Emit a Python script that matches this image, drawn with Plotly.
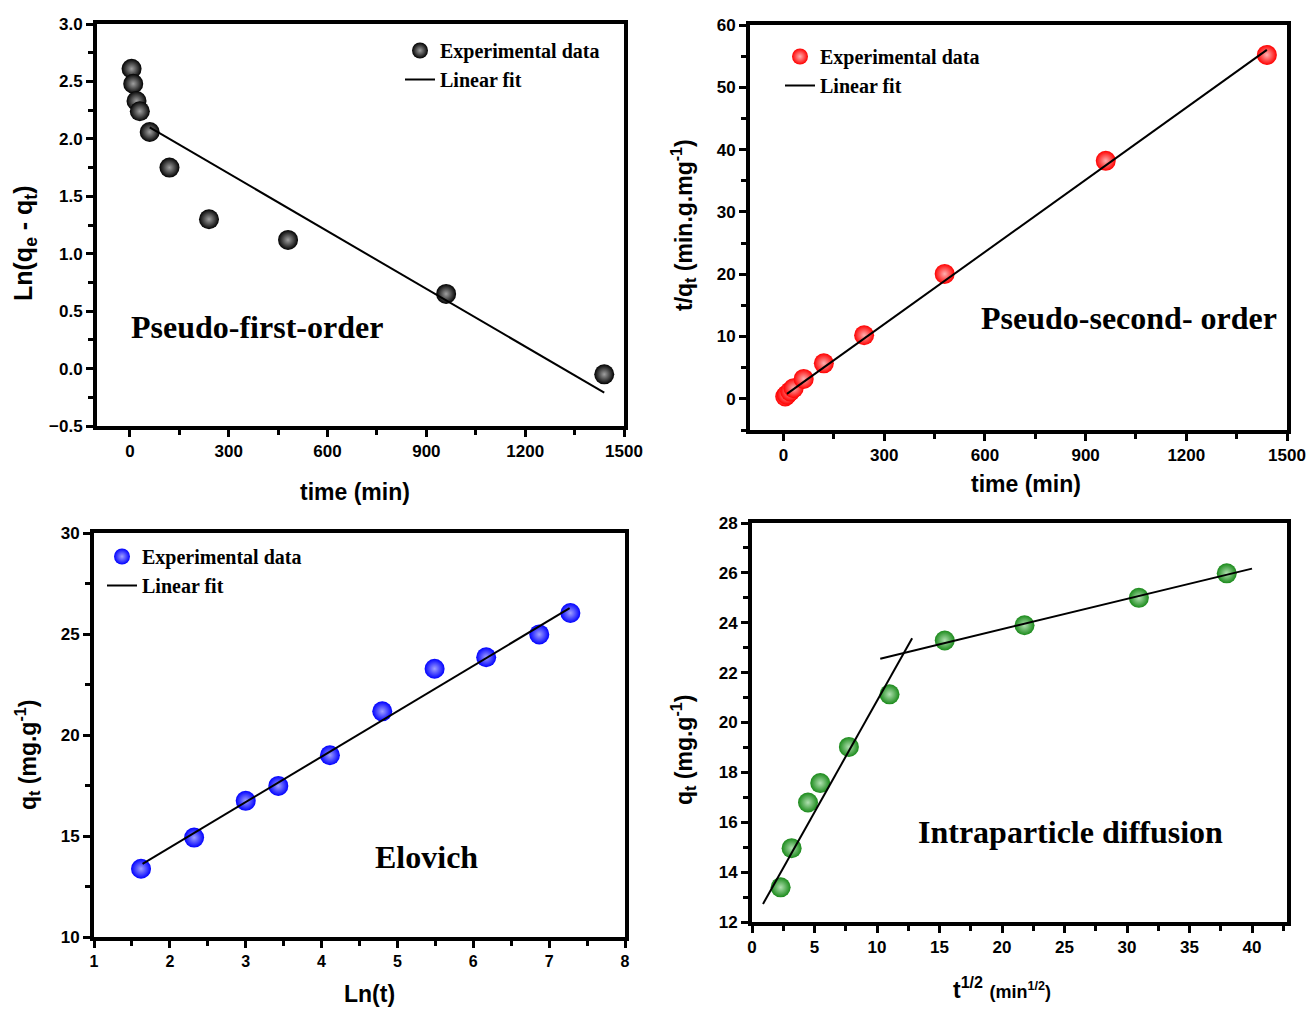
import plotly.graph_objects as go

W, H = 1309, 1009

# ---------------- data ----------------
# Panel 1: Pseudo-first-order
pfo_time = [5, 10, 20, 30, 60, 120, 240, 480, 960, 1440]
pfo_ln = [2.61, 2.48, 2.33, 2.24, 2.06, 1.75, 1.30, 1.12, 0.65, -0.05]
pfo_fit_x = [60, 1440]
pfo_fit_y = [2.10, -0.21]

# Panel 2: Pseudo-second-order
pso_time = [5, 10, 20, 30, 60, 120, 240, 480, 960, 1440]
pso_tq = [0.37, 0.67, 1.19, 1.71, 3.2, 5.7, 10.2, 20.05, 38.2, 55.2]
pso_fit_x = [10, 1440]
pso_fit_y = [0.8, 56.0]

# Panel 3: Elovich
elo_lnt = [1.62, 2.32, 3.00, 3.43, 4.11, 4.80, 5.49, 6.17, 6.87, 7.28]
elo_qt = [13.38, 14.92, 16.74, 17.48, 19.0, 21.17, 23.28, 23.85, 24.98, 26.04]
elo_fit_x = [1.64, 7.27]
elo_fit_y = [13.62, 26.28]

# Panel 4: Intraparticle diffusion
ipd_sqrt_t = [2.29, 3.17, 4.48, 5.46, 7.75, 11.0, 15.42, 21.8, 30.95, 37.98]
ipd_qt = [13.39, 14.96, 16.79, 17.57, 19.02, 21.13, 23.29, 23.9, 25.0, 25.98]
ipd_fit1_x = [0.88, 12.81]
ipd_fit1_y = [12.72, 23.38]
ipd_fit2_x = [10.26, 40.0]
ipd_fit2_y = [22.56, 26.17]

# ---------------- helpers ----------------
def px(x):
    return x / W

def py(y):
    return 1 - y / H

SANS = "Liberation Sans"
SERIF = "Liberation Serif"

fig = go.Figure()

def sphere(color, center):
    return dict(size=20, color=color, line=dict(width=0),
                gradient=dict(type="radial", color=center))

def add_panel(n, xs, ys, color, center, fits, legend):
    xa = "x" if n == 1 else f"x{n}"
    ya = "y" if n == 1 else f"y{n}"
    fig.add_trace(go.Scatter(x=xs, y=ys, mode="markers", name="Experimental data",
                             marker=sphere(color, center), xaxis=xa, yaxis=ya,
                             legend=legend, showlegend=legend is not None))
    for i, (fx, fy) in enumerate(fits):
        fig.add_trace(go.Scatter(x=fx, y=fy, mode="lines", name="Linear fit",
                                 line=dict(color="black", width=2), xaxis=xa, yaxis=ya,
                                 legend=legend, showlegend=(legend is not None and i == 0)))

add_panel(1, pfo_time, pfo_ln, "#000000", "#a0a0a0", [(pfo_fit_x, pfo_fit_y)], "legend")
add_panel(2, pso_time, pso_tq, "#ff0000", "#ffb0b0", [(pso_fit_x, pso_fit_y)], "legend2")
add_panel(3, elo_lnt, elo_qt, "#0000ff", "#a0a0ff", [(elo_fit_x, elo_fit_y)], "legend3")
add_panel(4, ipd_sqrt_t, ipd_qt, "#1a8a1a", "#b0e0b0",
          [(ipd_fit1_x, ipd_fit1_y), (ipd_fit2_x, ipd_fit2_y)], None)

def axis(domain, rng, dtick, minor, anchor, fmt=None, size=17):
    d = dict(domain=domain, range=rng, dtick=dtick, tick0=0, anchor=anchor,
             automargin=False,
             showgrid=False, zeroline=False, showline=True, mirror=True,
             linecolor="black", linewidth=4,
             ticks="outside", ticklen=7, tickwidth=3, tickcolor="black",
             minor=dict(ticks="outside", ticklen=5, tickwidth=3, tickcolor="black",
                        dtick=minor, showgrid=False),
             tickfont=dict(family=SANS, size=size, color="black", weight="bold"))
    if fmt:
        d["tickformat"] = fmt
    return d

fig.update_layout(
    width=W, height=H, margin=dict(l=0, r=0, t=0, b=0, autoexpand=False),
    paper_bgcolor="white", plot_bgcolor="white",
    separators=".,",
    xaxis=axis([px(97), px(624)], [-100, 1500], 300, 150, "y"),
    yaxis=axis([py(426), py(24)], [-0.5, 3.0], 0.5, 0.25, "x", fmt=".1f"),
    xaxis2=axis([px(750), px(1287)], [-100, 1500], 300, 150, "y2"),
    yaxis2=axis([py(430), py(25)], [-5, 60], 10, 5, "x2"),
    xaxis3=axis([px(94), px(625)], [1, 8], 1, 0.5, "y3", size=16),
    yaxis3=axis([py(937), py(533)], [10, 30], 5, 2.5, "x3"),
    xaxis4=axis([px(752), px(1287)], [0, 42.8], 5, 2.5, "y4"),
    yaxis4=axis([py(922), py(523)], [12, 28], 2, 1, "x4"),
)

leg_font = dict(family=SERIF, size=20, color="black", weight="bold")
def legend(x, y):
    return dict(x=px(x), y=py(y), xanchor="left", yanchor="top",
                bgcolor="rgba(0,0,0,0)", borderwidth=0, font=leg_font,
                itemsizing="trace", tracegroupgap=0)

fig.update_layout(legend=legend(400, 31), legend2=legend(780, 37), legend3=legend(102, 537))

anns = []
def title(text, x, y, angle=0, size=23):
    anns.append(dict(text=text, x=px(x), y=py(y), xref="paper", yref="paper",
                     showarrow=False, textangle=angle, xanchor="center", yanchor="middle",
                     font=dict(family=SANS, size=size, color="black", weight="bold")))

def label(text, x, y, size=32):
    anns.append(dict(text=text, x=px(x), y=py(y), xref="paper", yref="paper",
                     showarrow=False, xanchor="center", yanchor="middle",
                     font=dict(family=SERIF, size=size, color="black", weight="bold")))

title("time (min)", 355, 492)
title("Ln(q<sub>e</sub> - q<sub>t</sub>)", 25, 243, angle=-90, size=25)
title("time (min)", 1026, 484)
title("t/q<sub>t</sub> (min.g.mg<sup>-1</sup>)", 683, 225, angle=-90)
title("Ln(t)", 369, 994)
title("q<sub>t</sub> (mg.g<sup>-1</sup>)", 27, 755, angle=-90)
title("t<sup>1/2</sup> <span style='font-size:18px'>(min<sup>1/2</sup>)</span>", 1002, 988)
title("q<sub>t</sub> (mg.g<sup>-1</sup>)", 683, 750, angle=-90)

label("Pseudo-first-order", 257, 327)
label("Pseudo-second- order", 1129, 318)
label("Elovich", 426, 857)
label("Intraparticle diffusion", 1070, 832)

fig.update_layout(annotations=anns)

fig.write_html("out.html")
